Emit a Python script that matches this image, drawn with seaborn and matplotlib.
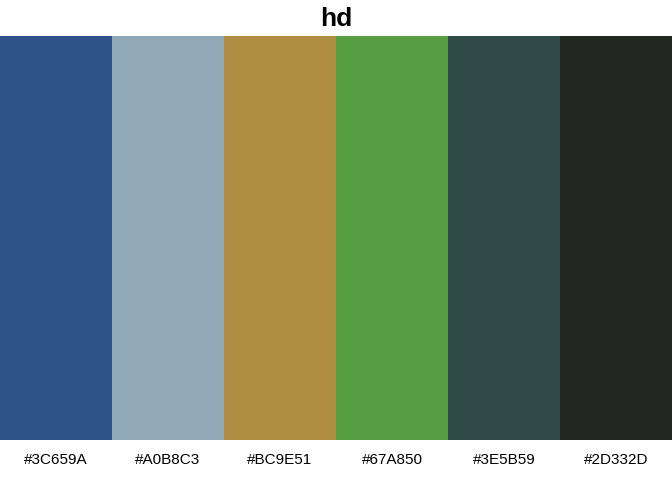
import pandas as pd
import seaborn as sns
import matplotlib
matplotlib.use('Agg')
import matplotlib.pyplot as plt

# palette "hd": hex names as labelled, fills as they appear on screen
hex_codes = ['#3C659A', '#A0B8C3', '#BC9E51', '#67A850', '#3E5B59', '#2D332D']
shown_colors = ['#2F518A', '#91A9B6', '#AE8D43', '#579D41', '#2F4A47', '#222722']
heights = [1, 1, 1, 1, 1, 1]

df = pd.DataFrame({'code': hex_codes, 'h': heights})

sns.set_style('white')
plt.rcParams['font.family'] = ['Liberation Sans', 'DejaVu Sans']

fig = plt.figure(figsize=(6.72, 4.8), dpi=100)
ax = fig.add_axes([0, 40 / 480, 1, 404 / 480])

sns.barplot(data=df, x='code', y='h', hue='code', palette=shown_colors,
            width=1.0, legend=False, ax=ax, saturation=1, linewidth=0)

ax.set_xlim(-0.5, len(hex_codes) - 0.5)
ax.set_ylim(0, 1)
ax.set_xlabel('')
ax.set_ylabel('')
ax.set_yticks([])
ax.tick_params(axis='x', length=0, pad=9, labelsize=11, labelcolor='black')
for s in ax.spines.values():
    s.set_visible(False)

fig.text(0.5, 1 - 19 / 480, 'hd', ha='center', va='center',
         fontsize=19, fontweight='bold', color='black')

fig.savefig('out.png', dpi=100)
